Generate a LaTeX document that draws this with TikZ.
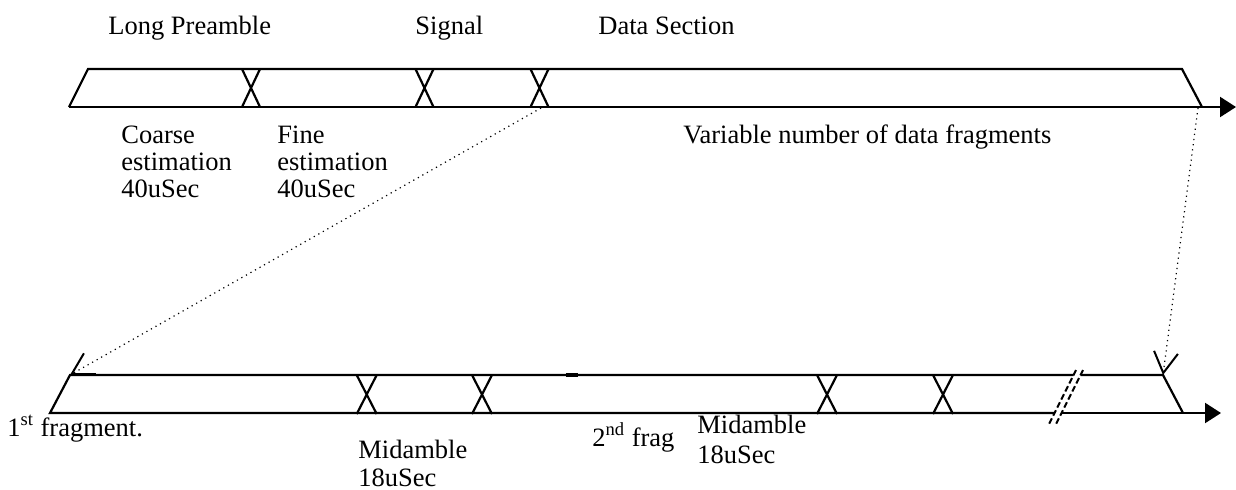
\documentclass[tikz,border=0pt]{standalone}
\usepackage{fontspec}
\setmainfont{Liberation Serif}
\usetikzlibrary{arrows.meta}
\begin{document}
\begin{tikzpicture}[x=0.5pt,y=-0.5pt,
  bar/.style={line width=1.1pt},
  xmark/.style={line width=1.1pt},
  lbl/.style={anchor=base west, inner sep=0pt, font=\fontsize{13.25}{15}\selectfont},
  link/.style={dotted, line width=0.6pt, -{Straight Barb[length=10.4pt,width=12pt,line width=1pt]}},
  brk/.style={line width=1pt, dash pattern=on 3pt off 1.5pt},
  axis/.style={line width=1.1pt, -{Triangle[length=8pt,width=10pt]}}]
\useasboundingbox (0,0) rectangle (1236,489);

% ---------- top frame ----------
\coordinate (tTL) at (88,69);
\coordinate (tTR) at (1182,69);
\coordinate (tBL) at (69,107);
\coordinate (tBR) at (1202,107);
\coordinate (tEnd) at (1236,107);
\draw[bar] (tBL) -- (tTL) -- (tTR) -- (tBR);
\draw[axis] (tBL) -- (tEnd);
\foreach \c in {251,424.5,539.5}
  \draw[xmark] (\c-9,69) -- (\c+9,107) (\c+9,69) -- (\c-9,107);

% ---------- bottom frame ----------
\coordinate (bTL) at (70,375);
\coordinate (bTR) at (1163,375);
\coordinate (bBL) at (50,413);
\coordinate (bBR) at (1183,413);
\coordinate (bEnd) at (1221,413);
\coordinate (gT1) at (1073.5,375);
\coordinate (gT2) at (1080.5,375);
\coordinate (gB1) at (1054.5,413);
\coordinate (gB2) at (1061.5,413);
\draw[bar] (gB1) -- (bBL) -- (bTL) -- (gT1);
\draw[bar] (gT2) -- (bTR) -- (bBR);
\draw[axis] (gB2) -- (bEnd);
\draw[line width=1.6pt] (566,375) -- (578,375);
\foreach \c in {366.7,482,827,943}
  \draw[xmark] (\c-10,375) -- (\c+10,414) (\c+10,375) -- (\c-10,414);
% break marks
\coordinate (s1a) at (1076,370);
\coordinate (s1b) at (1048,426);
\coordinate (s2a) at (1083,370);
\coordinate (s2b) at (1055,426);
\draw[brk] (s1a) -- (s1b);
\draw[brk] (s2a) -- (s2b);

% ---------- dotted links ----------
\coordinate (srcA) at (541,108);
\coordinate (srcB) at (1198,108);
\draw[link] (srcA) -- (bTL);
\draw[link] (srcB) -- (bTR);

% ---------- labels ----------
\node[lbl] (lp) at (108,34) {Long Preamble};
\node[lbl] (sg) at (415,34) {Signal};
\node[lbl] (ds) at (598,34) {Data Section};

\node[lbl] (c1) at (121,143) {Coarse};
\node[lbl] (c2) at (121,170) {estimation};
\node[lbl] (c3) at (121,197) {40uSec};
\node[lbl] (f1) at (277,143) {Fine};
\node[lbl] (f2) at (277,170) {estimation};
\node[lbl] (f3) at (277,197) {40uSec};
\node[lbl] (vn) at (683,143) {Variable number of data fragments};

\node[lbl] (fr1) at (7,436) {1\textsuperscript{st} fragment.};
\node[lbl] (m1a) at (358,458) {Midamble};
\node[lbl] (m1b) at (358,486) {18uSec};
\node[lbl] (fr2) at (592,446) {2\textsuperscript{nd} frag};
\node[lbl] (m2a) at (697,433) {Midamble};
\node[lbl] (m2b) at (697,463) {18uSec};
\end{tikzpicture}
\end{document}
